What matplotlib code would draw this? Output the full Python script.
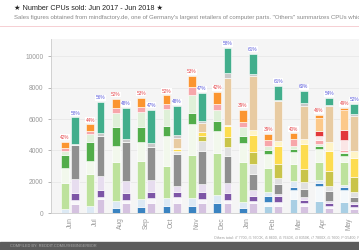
import numpy as np
import matplotlib
matplotlib.use("Agg")
import matplotlib.pyplot as plt

plt.rcParams['font.family'] = ['Liberation Sans', 'DejaVu Sans']

months = ['Jun', 'Jul', 'Aug', 'Sep', 'Oct', 'Nov', 'Dec', 'Jan', 'Feb', 'Mar', 'Apr', 'May']
intel_pct = ['42%', '44%', '52%', '53%', '52%', '53%', '42%', '39%', '39%', '40%', '46%', '49%']
amd_pct = ['58%', '56%', '48%', '47%', '48%', '47%', '58%', '61%', '61%', '60%', '54%', '52%']

# intel segments, bottom to top
i_lblue = [0, 0, 0, 0, 0, 0, 0, 0, 470, 895, 750, 680]
i_white = [0, 0, 0, 0, 0, 0, 0, 0, 255, 595, 1000, 810]
i_blue = [0, 0, 290, 360, 420, 470, 615, 320, 340, 150, 170, 150]
i_pblue = [250, 420, 450, 535, 535, 510, 555, 400, 255, 430, 170, 150]
i_lgreen = [1650, 2070, 2490, 2400, 2020, 2750, 2655, 2510, 1530, 1065, 1170, 1490]
i_wgreen = [960, 850, 1065, 1210, 1915, 1935, 1385, 1215, 920, 785, 810, 365]
i_green = [830, 1170, 1215, 960, 640, 745, 640, 490, 275, 170, 210, 170]
i_pgreen = [290, 535, 875, 960, 1110, 1105, 700, 550, 210, 210, 150, 110]
i_pink = [150, 210, 300, 350, 300, 530, 400, 350, 410, 400, 255, 110]
i_ppink = [0, 0, 0, 0, 0, 0, 0, 0, 0, 0, 210, 640]
i_red = [0, 0, 0, 0, 0, 0, 0, 0, 0, 0, 340, 600]
i_lorange = [0, 0, 0, 0, 0, 0, 0, 0, 0, 0, 850, 1280]
i_orange = [420, 400, 600, 575, 570, 700, 765, 750, 385, 380, 170, 150]

# amd segments, bottom to top
a_lav = [575, 895, 615, 615, 615, 615, 615, 615, 470, 470, 320, 255]
a_white = [255, 110, 235, 320, 380, 280, 220, 170, 255, 200, 130, 100]
a_purple = [430, 470, 400, 385, 320, 420, 420, 280, 340, 170, 190, 215]
a_plav = [900, 915, 810, 810, 430, 535, 640, 380, 150, 190, 130, 110]
a_gray = [2170, 2555, 2445, 2105, 2025, 2130, 1745, 1020, 640, 520, 640, 320]
a_lgray = [0, 0, 0, 0, 165, 640, 595, 685, 360, 400, 320, 320]
a_olive = [0, 0, 0, 0, 0, 320, 640, 740, 920, 850, 950, 960]
a_yellow = [0, 0, 0, 0, 170, 210, 685, 1065, 1125, 1600, 1250, 1215]
a_lyellow = [0, 0, 0, 0, 50, 0, 60, 320, 365, 300, 575, 490]
a_tan = [0, 0, 0, 0, 640, 575, 3020, 3450, 2510, 2150, 2300, 2190]
a_lgray_top = [60, 150, 215, 235, 210, 170, 280, 170, 110, 150, 110, 150]
a_teal = [1710, 1980, 1980, 2130, 1810, 1745, 1600, 1280, 895, 790, 430, 640]

intel = [(i_lblue, '#a9cfe4'), (i_white, '#f4f8fb'), (i_blue, '#3a83c1'), (i_pblue, '#dce9f4'),
         (i_lgreen, '#bde29c'), (i_wgreen, '#f2f8ec'), (i_green, '#52ad4a'), (i_pgreen, '#dff0d8'),
         (i_pink, '#f7a6aa'), (i_ppink, '#fbe6e6'), (i_red, '#e2383b'), (i_lorange, '#fcc98a'),
         (i_orange, '#fb9530')]
amd = [(a_lav, '#d5c2e0'), (a_white, '#f8f6fa'), (a_purple, '#7d55a6'), (a_plav, '#e7ddef'),
       (a_gray, '#8f8f8f'), (a_lgray, '#e0e0e0'), (a_olive, '#c9c44a'), (a_yellow, '#fddc50'),
       (a_lyellow, '#fff4c6'), (a_tan, '#e8cba2'), (a_lgray_top, '#c8c8c8'), (a_teal, '#42ae8c')]

fig = plt.figure(figsize=(3.59, 2.5), dpi=100)
ax = fig.add_axes([0.142, 0.148, 0.858, 0.696])
ax.set_facecolor('#f5f5f5')

x = np.arange(len(months))
w = 0.31
off = 0.2

def stack(ax, pos, series):
    bottom = np.zeros(len(months))
    for vals, col in series:
        ax.bar(pos, vals, w, bottom=bottom, color=col, edgecolor='white', linewidth=0.4)
        bottom += np.array(vals)
    return bottom

itop = stack(ax, x - off, intel)
atop = stack(ax, x + off, amd)

for i in range(len(months)):
    ax.text(x[i] - off, itop[i] + 120, intel_pct[i], color='#e5484d', fontsize=3.4,
            ha='center', va='bottom', bbox=dict(fc='white', ec='none', pad=0.3))
    ax.text(x[i] + off, atop[i] + 120, amd_pct[i], color='#5b5bdc', fontsize=3.4,
            ha='center', va='bottom', bbox=dict(fc='white', ec='none', pad=0.3))

ax.set_xlim(-0.75, 11.38)
ax.set_ylim(0, 11110)
ax.set_yticks([0, 2000, 4000, 6000, 8000, 10000])
ax.yaxis.grid(True, color='#e6e6e6', linewidth=0.5)
ax.set_axisbelow(True)
ax.set_xticks(x)
ax.set_xticklabels(months, rotation=90)
ax.tick_params(axis='both', labelsize=4.8, colors='#999999', length=2, width=0.5)
ax.tick_params(axis='x', length=0, pad=3)
for s in ['top', 'right']:
    ax.spines[s].set_visible(False)
for s in ['left', 'bottom']:
    ax.spines[s].set_color('#cccccc')
    ax.spines[s].set_linewidth(0.6)

fig.text(14 / 359, 1 - 8 / 250, '★ Number CPUs sold: Jun 2017 - Jun 2018 ★', fontsize=5.2,
         color='#222222', va='center', ha='left')
fig.text(14 / 359, 1 - 18 / 250,
         'Sales figures obtained from mindfactory.de, one of Germany\'s largest retailers of computer parts. '
         '"Others" summarizes CPUs which contributed less than 2% to the monthly sales',
         fontsize=4.3, color='#888888', va='center', ha='left')
fig.add_artist(plt.Line2D([0, 1], [1 - 26 / 250, 1 - 26 / 250], color='#f6cfd3', linewidth=0.7))

fig.text(214 / 359, 1 - 238 / 250,
         'Others total: i7 7700, i5 7600K, i5 8600, i5 7640X, i3 8350K, i7 7800X, i5 7600, P G5400, P G4600, i3 8100',
         fontsize=2.6, color='#999999', va='center', ha='left')
fig.add_artist(plt.Rectangle((0, 0), 1, 8 / 250, color='#5c5c5c', transform=fig.transFigure))
fig.text(10 / 359, 4 / 250, 'COMPILED BY: REDDIT.COM/U/SEBINGERBOR', fontsize=2.8, color='#aaaaaa',
         va='center', ha='left')

fig.savefig('out.png', dpi=100)
